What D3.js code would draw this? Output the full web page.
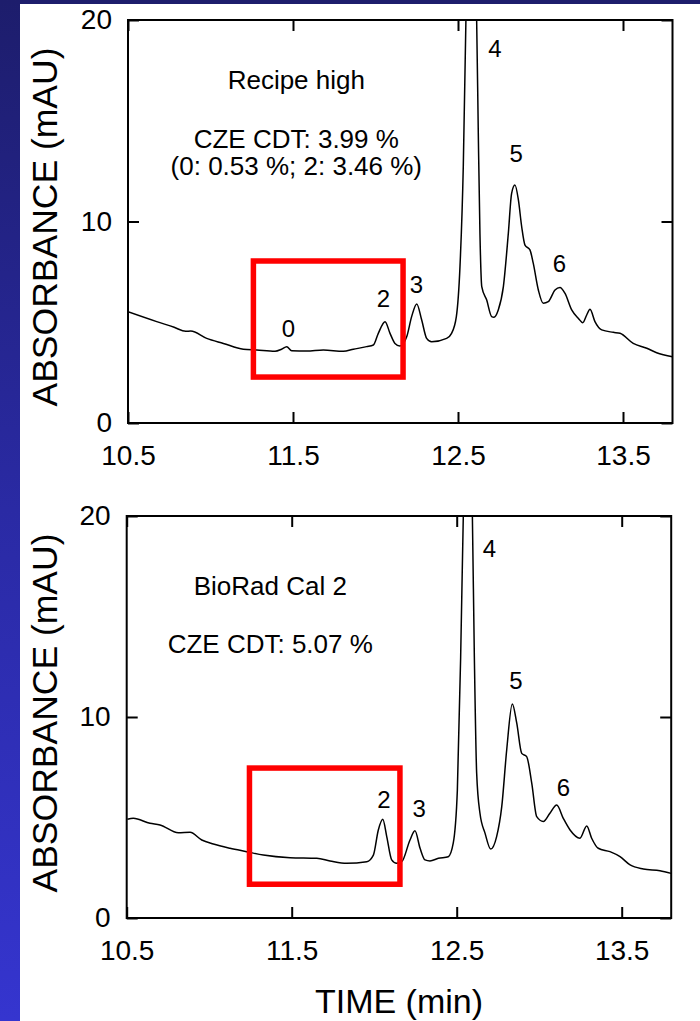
<!DOCTYPE html>
<html>
<head>
<meta charset="utf-8">
<script src="https://cdn.jsdelivr.net/npm/d3@7"></script>
<style>
  html, body { margin: 0; padding: 0; background: #ffffff; }
  svg { display: block; }
  text { font-family: "Liberation Sans", Arial, sans-serif; fill: #000; }
</style>
</head>
<body>
<svg id="chart" width="700" height="1021"></svg>
<script>
// Electropherogram traces: migration time (min) and absorbance (mAU)
const recipeTime = [10.50, 10.674, 10.78, 10.85, 10.88, 10.977, 11.078, 11.199, 11.28, 11.391, 11.43, 11.462, 11.492,
  11.583, 11.684, 11.805, 11.866, 11.946, 11.987, 12.017, 12.058, 12.088, 12.118, 12.148, 12.189, 12.219, 12.25,
  12.28, 12.31, 12.34, 12.431, 12.461, 12.49, 12.512, 12.532, 12.548, 12.578, 12.613, 12.623, 12.633, 12.644,
  12.674, 12.704, 12.718, 12.744, 12.775, 12.805, 12.825, 12.845, 12.866, 12.886, 12.906, 12.936, 12.956, 12.987,
  13.017, 13.047, 13.088, 13.118, 13.148, 13.189, 13.229, 13.256, 13.28, 13.30, 13.33, 13.371, 13.441, 13.482,
  13.562, 13.644, 13.704, 13.80];
const recipeAbs = [5.52, 5.03, 4.75, 4.55, 4.56, 4.20, 3.95, 3.66, 3.62, 3.56, 3.66, 3.79, 3.59,
  3.57, 3.62, 3.56, 3.66, 3.79, 3.87, 4.45, 5.03, 4.45, 3.95, 3.82, 4.28, 5.28, 5.91,
  5.11, 4.20, 4.03, 4.20, 4.45, 5.28, 7.76, 12.72, 20, 27, 20, 14.38, 9.41, 6.77,
  6.10, 5.28, 5.25, 5.61, 6.77, 9.41, 11.40, 11.81, 11.07, 9.74, 8.83, 8.59, 7.93, 6.60,
  5.94, 6.02, 6.60, 6.73, 6.44, 5.61, 5.20, 4.98, 5.36, 5.64, 5.03, 4.62, 4.50, 4.45,
  3.95, 3.71, 3.49, 3.29];

const bioradTime = [10.504, 10.54, 10.641, 10.702, 10.813, 10.884, 10.955, 11.025, 11.126, 11.227, 11.328, 11.49,
  11.652, 11.732, 11.833, 11.955, 11.995, 12.025, 12.052, 12.076, 12.106, 12.136, 12.167, 12.217, 12.247, 12.278,
  12.308, 12.338, 12.389, 12.449, 12.479, 12.504, 12.524, 12.54, 12.568, 12.595, 12.607, 12.621, 12.641, 12.672,
  12.706, 12.742, 12.773, 12.803, 12.837, 12.864, 12.894, 12.924, 12.955, 12.985, 13.025, 13.065, 13.106, 13.146,
  13.187, 13.247, 13.288, 13.318, 13.358, 13.429, 13.49, 13.551, 13.631, 13.732, 13.80];
const bioradAbs = [4.91, 4.96, 4.71, 4.63, 4.24, 4.26, 3.88, 3.68, 3.47, 3.30, 3.13, 3.00,
  2.97, 2.84, 2.72, 2.80, 3.13, 4.38, 4.91, 4.05, 2.89, 2.72, 2.80, 3.88, 4.34, 3.47,
  2.89, 2.84, 2.97, 3.05, 3.72, 6.37, 13.0, 20, 27, 20, 13.0, 7.20, 5.21, 4.21,
  3.43, 4.05, 5.54, 8.36, 10.65, 9.69, 8.19, 8.03, 6.70, 5.04, 4.80, 5.21, 5.62, 4.96,
  4.38, 3.97, 4.58, 3.97, 3.47, 3.30, 3.05, 2.64, 2.44, 2.35, 2.22];

// Peak numbering (label anchor in time / absorbance units)
const recipePeakNames = ["0", "2", "3", "4", "5", "6"];
const recipePeakTime = [11.473, 12.048, 12.248, 12.724, 12.852, 13.115];
const recipePeakAbs = [4.27, 5.76, 6.45, 18.16, 12.95, 7.49];
const bioradPeakNames = ["2", "3", "4", "5", "6"];
const bioradPeakTime = [12.059, 12.272, 12.699, 12.859, 13.147];
const bioradPeakAbs = [5.47, 5.02, 17.96, 11.39, 6.07];

// Annotation lines
const recipeNotes = ["Recipe high", "CZE CDT: 3.99 %", "(0: 0.53 %; 2: 3.46 %)"];
const recipeNoteAbs = [16.58, 13.63, 12.29];
const bioradNotes = ["BioRad Cal 2", "CZE CDT: 5.07 %"];
const bioradNoteAbs = [16.07, 13.18];

// Highlighted regions [t0, t1, a0, a1]
const recipeBox = [11.26, 12.167, 2.28, 8.04];
const bioradBox = [11.244, 12.156, 1.68, 7.46];

const xTicks = [10.5, 11.5, 12.5, 13.5];
const yTicks = [0, 10, 20];
const xDomain = [10.5, 13.8];
const yDomain = [0, 20];

const svg = d3.select("#chart");
const W = 700, H = 1021;

// Background: white page with a navy band on top and a blue gradient strip on the left
const defs = svg.append("defs");
const grad = defs.append("linearGradient").attr("id", "stripGrad")
  .attr("x1", 0).attr("y1", 0).attr("x2", 0).attr("y2", 1);
grad.append("stop").attr("offset", "0%").attr("stop-color", "#1d1d6c");
grad.append("stop").attr("offset", "50%").attr("stop-color", "#2a2aa4");
grad.append("stop").attr("offset", "100%").attr("stop-color", "#3535cf");
svg.append("rect").attr("width", W).attr("height", H).attr("fill", "#ffffff");
svg.append("rect").attr("x", 0).attr("y", 0).attr("width", W).attr("height", 4).attr("fill", "#1d1d6c");
svg.append("rect").attr("x", 0).attr("y", 0).attr("width", 20).attr("height", H).attr("fill", "url(#stripGrad)");

function panel(opt) {
  const x = d3.scaleLinear().domain(xDomain).range([opt.left, opt.right]);
  const y = d3.scaleLinear().domain(yDomain).range([opt.bottom, opt.top]);
  const g = svg.append("g");

  const clipId = "clip" + opt.id;
  defs.append("clipPath").attr("id", clipId).append("rect")
    .attr("x", opt.left).attr("y", opt.top)
    .attr("width", opt.right - opt.left).attr("height", opt.bottom - opt.top);

  // axes with inward ticks
  const xAxisB = d3.axisBottom(x).tickValues(xTicks).tickFormat(d3.format(".1f"))
    .tickSizeInner(-11).tickSizeOuter(0).tickPadding(22);
  const xAxisT = d3.axisTop(x).tickValues(xTicks).tickFormat("")
    .tickSizeInner(-11).tickSizeOuter(0);
  const yAxisL = d3.axisLeft(y).tickValues(yTicks).tickFormat(d3.format("d"))
    .tickSizeInner(-11).tickSizeOuter(0).tickPadding(16);
  const yAxisR = d3.axisRight(y).tickValues(yTicks).tickFormat("")
    .tickSizeInner(-11).tickSizeOuter(0);

  const styleAxis = sel => {
    sel.select(".domain").remove();
    sel.selectAll(".tick line").attr("stroke", "#000").attr("stroke-width", 2);
    sel.selectAll(".tick text").attr("font-size", 28).attr("fill", "#000")
      .attr("font-family", "'Liberation Sans', Arial, sans-serif");
  };
  g.append("g").attr("transform", `translate(0,${opt.bottom})`).call(xAxisB).call(styleAxis);
  g.append("g").attr("transform", `translate(0,${opt.top})`).call(xAxisT).call(styleAxis);
  g.append("g").attr("transform", `translate(${opt.left},0)`).call(yAxisL).call(styleAxis);
  g.append("g").attr("transform", `translate(${opt.right},0)`).call(yAxisR).call(styleAxis);

  // trace
  const pts = opt.time.map((t, i) => [t, opt.abs[i]]);
  const line = d3.line().x(d => x(d[0])).y(d => y(d[1])).curve(d3.curveMonotoneX);
  g.append("path").datum(pts).attr("clip-path", `url(#${clipId})`)
    .attr("fill", "none").attr("stroke", "#000").attr("stroke-width", 1.5)
    .attr("stroke-linejoin", "round").attr("d", line);

  // frame
  g.append("rect").attr("x", opt.left).attr("y", opt.top)
    .attr("width", opt.right - opt.left).attr("height", opt.bottom - opt.top)
    .attr("fill", "none").attr("stroke", "#000").attr("stroke-width", 2);

  // highlighted region
  const b = opt.box;
  g.append("rect").attr("x", x(b[0])).attr("y", y(b[3]))
    .attr("width", x(b[1]) - x(b[0])).attr("height", y(b[2]) - y(b[3]))
    .attr("fill", "none").attr("stroke", "#ff0000").attr("stroke-width", 5.5);

  // peak numbers
  g.selectAll(".peak").data(opt.peakNames).join("text")
    .attr("class", "peak")
    .attr("x", (d, i) => x(opt.peakTime[i]))
    .attr("y", (d, i) => y(opt.peakAbs[i]))
    .attr("text-anchor", "middle").attr("font-size", 24).text(d => d);

  // annotations
  g.selectAll(".note").data(opt.notes).join("text")
    .attr("class", "note")
    .attr("x", x(opt.noteTime))
    .attr("y", (d, i) => y(opt.noteAbs[i]))
    .attr("text-anchor", "middle").attr("font-size", 26).text(d => d);

  // y axis title
  g.append("text")
    .attr("transform", `translate(57,${opt.titleY}) rotate(-90)`)
    .attr("text-anchor", "middle").attr("font-size", 35.5)
    .text("ABSORBANCE (mAU)");
}

panel({
  id: "A", left: 128, right: 672.5, top: 20, bottom: 423,
  time: recipeTime, abs: recipeAbs,
  peakNames: recipePeakNames, peakTime: recipePeakTime, peakAbs: recipePeakAbs,
  notes: recipeNotes, noteTime: 11.52, noteAbs: recipeNoteAbs,
  box: recipeBox, titleY: 227
});

panel({
  id: "B", left: 126.7, right: 671.2, top: 516, bottom: 918,
  time: bioradTime, abs: bioradAbs,
  peakNames: bioradPeakNames, peakTime: bioradPeakTime, peakAbs: bioradPeakAbs,
  notes: bioradNotes, noteTime: 11.37, noteAbs: bioradNoteAbs,
  box: bioradBox, titleY: 713
});

// shared x axis title
svg.append("text").attr("x", 399).attr("y", 1013)
  .attr("text-anchor", "middle").attr("font-size", 34)
  .text("TIME (min)");
</script>
</body>
</html>
